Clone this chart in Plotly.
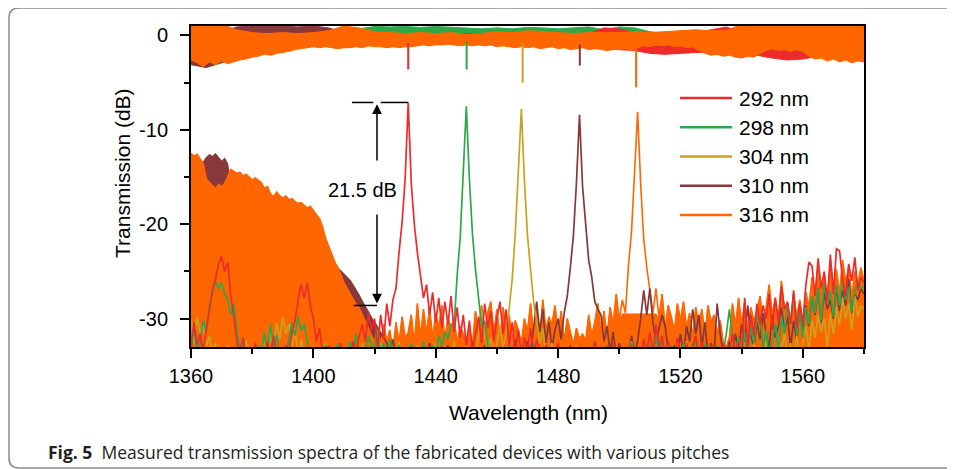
import plotly.graph_objects as go
import numpy as np

# ---------------- data ----------------
SERIES = ["292 nm", "298 nm", "304 nm", "310 nm", "316 nm"]
COLORS = ["#ee2b2b", "#2ca84a", "#c9a21f", "#86383a", "#ff6600"]

X_TICKS = [1360, 1400, 1440, 1480, 1520, 1560]
X_TICKTEXT = ["1360", "1400", "1440", "1480", "1520", "1560"]
X_MINOR = [1380, 1420, 1460, 1500, 1540, 1580]
Y_TICKS = [0, -10, -20, -30]
Y_TICKTEXT = ["0", "-10", "-20", "-30"]
Y_MINOR = [-5, -15, -25]

wl = list(range(1360, 1581))          # 1 nm grid (drop-port spectra)
wl_2nm = list(range(1360, 1581, 2))   # 2 nm grid (orange through-port edge)
wl_5nm = list(range(1360, 1581, 5))   # 5 nm grid (through-port envelopes)

# drop-port spectra, dB, 1360..1580 nm step 1
drop_292 = [
    -33.0, -30.4, -32.8, -31.6, -33.6, -31.0, -29.2, -27.0, -25.8, -24.2,
    -23.4, -25.0, -24.0, -27.6, -29.8, -32.4, -33.8, -32.0, -34.0, -33.4,
    -34.0, -32.6, -34.0, -33.0, -34.0, -32.4, -33.8, -31.8, -34.0, -33.2,
    -34.0, -32.8, -33.6, -31.4, -30.2, -28.0, -26.4, -27.8, -26.2, -28.6,
    -30.0, -32.4, -31.0, -33.6, -34.0, -32.8, -34.0, -33.2, -34.0, -32.6,
    -34.0, -33.0, -34.0, -32.4, -33.6, -31.8, -30.6, -32.4, -29.4, -31.2,
    -30.0, -33.0, -29.6, -32.2, -28.4, -30.8, -28.0, -26.8, -23.0, -19.8,
    -15.2, -7.1, -15.6, -20.0, -23.0, -25.6, -27.8, -26.4, -29.6, -27.2,
    -30.4, -27.8, -31.0, -28.2, -30.6, -27.6, -31.4, -28.8, -32.0, -29.6,
    -32.8, -30.2, -33.4, -31.6, -29.8, -32.6, -28.4, -31.0, -29.2, -32.4,
    -30.0, -28.2, -31.6, -29.0, -32.8, -30.4, -33.6, -31.2, -34.0, -32.0,
    -33.4, -31.0, -34.0, -32.2, -33.6, -34.0, -32.8, -34.0, -33.2, -34.0,
    -32.6, -34.0, -33.4, -34.0, -32.8, -34.0, -33.6, -34.0, -33.0, -34.0,
    -33.6, -34.0, -32.4, -34.0, -33.8, -34.0, -33.0, -34.0, -32.6, -34.0,
    -33.2, -34.0, -33.8, -34.0, -32.8, -34.0, -33.4, -34.0, -32.2, -33.6,
    -31.4, -33.8, -30.6, -33.0, -31.8, -34.0, -32.4, -33.6, -34.0, -32.0,
    -33.4, -34.0, -32.6, -34.0, -33.0, -31.8, -34.0, -32.4, -33.6, -34.0,
    -32.8, -34.0, -33.2, -34.0, -32.6, -34.0, -33.6, -31.6, -33.8, -32.4,
    -34.0, -27.8, -33.0, -29.6, -31.8, -28.4, -30.6, -28.6, -30.0, -27.4,
    -31.2, -27.8, -30.4, -26.6, -29.0, -28.2, -30.6, -27.0, -31.0, -28.4,
    -30.6, -26.4, -24.0, -24.4, -27.6, -23.6, -26.8, -25.0, -28.2, -23.2,
    -27.4, -22.6, -22.8, -25.8, -27.6, -24.2, -26.0, -23.5, -27.0, -25.6,
    -26.2]

drop_298 = [
    -33.5, -31.0, -33.8, -32.4, -30.2, -31.4, -28.6, -27.2, -26.0, -26.8,
    -26.2, -27.4, -28.0, -29.6, -28.4, -31.2, -33.5, -32.0, -33.8, -34.0,
    -33.6, -34.0, -32.8, -33.8, -31.4, -33.6, -30.6, -33.2, -31.8, -34.0,
    -33.4, -34.0, -32.0, -30.4, -31.8, -29.8, -31.2, -30.6, -32.4, -33.8,
    -34.0, -33.2, -34.0, -33.6, -32.8, -34.0, -33.0, -34.0, -32.6, -34.0,
    -33.0, -34.0, -32.4, -33.8, -31.6, -34.0, -33.2, -34.0, -31.8, -33.0,
    -33.0, -31.2, -33.8, -32.6, -34.0, -32.2, -33.6, -34.0, -32.8, -34.0,
    -33.4, -34.0, -32.6, -34.0, -33.2, -34.0, -32.4, -33.8, -34.0, -32.8,
    -33.6, -31.8, -33.0, -31.4, -32.2, -30.6, -30.8, -25.4, -21.4, -15.0,
    -7.5, -15.2, -21.0, -24.8, -27.8, -30.8, -30.2, -32.8, -33.6, -34.0,
    -33.8, -34.0, -33.2, -34.0, -32.8, -34.0, -33.6, -34.0, -33.0, -34.0,
    -33.4, -34.0, -32.6, -34.0, -33.8, -34.0, -33.2, -34.0, -33.6, -34.0,
    -33.0, -34.0, -33.6, -34.0, -32.8, -34.0, -33.4, -34.0, -33.8, -34.0,
    -33.2, -34.0, -32.4, -34.0, -33.8, -34.0, -32.8, -34.0, -33.6, -34.0,
    -33.4, -34.0, -33.0, -34.0, -32.6, -34.0, -33.8, -34.0, -33.2, -34.0,
    -32.8, -34.0, -31.8, -34.0, -32.4, -33.6, -34.0, -32.8, -34.0, -33.4,
    -34.0, -32.6, -34.0, -33.0, -34.0, -32.2, -33.8, -34.0, -32.6, -34.0,
    -33.4, -34.0, -32.8, -34.0, -33.6, -31.6, -29.0, -31.8, -33.4, -32.0,
    -34.0, -31.4, -33.6, -30.8, -32.6, -30.0, -29.6, -33.0, -31.2, -34.0,
    -32.2, -30.6, -33.4, -29.8, -31.6, -28.6, -30.4, -27.4, -31.8, -29.2,
    -32.0, -28.8, -30.6, -27.6, -29.4, -26.8, -30.2, -26.2, -28.4, -27.0,
    -29.8, -26.4, -28.6, -25.8, -28.0, -26.6, -29.2, -27.2, -26.0, -26.8,
    -26.6]

drop_304 = [
    -30.2, -32.6, -29.8, -31.6, -30.4, -33.0, -31.8, -34.0, -32.6, -34.0,
    -33.4, -34.0, -32.8, -34.0, -33.6, -34.0, -33.0, -34.0, -32.4, -34.0,
    -33.8, -34.0, -33.2, -34.0, -32.6, -34.0, -31.6, -33.0, -30.4, -32.2,
    -29.8, -31.6, -30.6, -33.4, -31.0, -34.0, -32.2, -34.0, -33.6, -34.0,
    -33.0, -34.0, -33.8, -34.0, -32.6, -34.0, -33.4, -34.0, -33.0, -34.0,
    -33.6, -34.0, -32.8, -34.0, -33.4, -34.0, -32.6, -34.0, -33.8, -34.0,
    -33.2, -34.0, -32.6, -34.0, -33.8, -34.0, -33.0, -34.0, -32.4, -34.0,
    -33.6, -34.0, -33.2, -34.0, -32.8, -34.0, -33.4, -34.0, -33.0, -34.0,
    -32.6, -34.0, -33.8, -34.0, -33.2, -34.0, -32.4, -34.0, -33.6, -34.0,
    -33.0, -34.0, -32.8, -34.0, -31.8, -29.0, -31.6, -33.4, -32.0, -34.0,
    -32.6, -30.8, -33.2, -31.6, -29.0, -25.8, -21.0, -15.0, -7.8, -15.4,
    -21.2, -24.8, -28.2, -30.4, -32.6, -31.0, -33.8, -34.0, -32.6, -34.0,
    -33.4, -34.0, -33.0, -34.0, -33.6, -34.0, -32.8, -34.0, -33.4, -34.0,
    -33.0, -34.0, -32.6, -34.0, -33.8, -34.0, -33.2, -34.0, -32.8, -34.0,
    -33.6, -34.0, -33.0, -34.0, -32.4, -34.0, -33.4, -34.0, -33.0, -34.0,
    -32.8, -34.0, -33.6, -34.0, -33.0, -34.0, -32.6, -34.0, -33.4, -34.0,
    -33.0, -34.0, -32.4, -34.0, -33.8, -34.0, -33.2, -34.0, -32.6, -34.0,
    -33.4, -34.0, -33.0, -34.0, -32.8, -34.0, -33.6, -34.0, -33.2, -34.0,
    -32.8, -34.0, -33.4, -34.0, -32.6, -34.0, -33.0, -34.0, -32.4, -34.0,
    -33.2, -34.0, -32.0, -33.6, -31.4, -34.0, -32.6, -33.8, -31.8, -34.0,
    -32.6, -30.8, -33.4, -30.2, -32.0, -29.6, -31.4, -30.0, -33.0, -29.4,
    -31.6, -28.8, -30.6, -27.8, -30.0, -28.4, -31.2, -27.6, -29.8, -28.6,
    -29.0]

drop_310 = [
    -14.5, -14.8, -14.2, -14.0, -13.4, -12.9, -12.6, -12.8, -12.5, -12.9,
    -13.3, -13.0, -13.6, -15.8, -16.0, -16.4, -16.2, -16.8, -16.6, -17.0,
    -17.2, -17.6, -17.4, -18.0, -18.2, -18.6, -18.4, -19.0, -19.2, -19.6,
    -19.8, -20.0, -20.4, -20.2, -20.8, -21.0, -21.2, -21.6, -21.4, -22.0,
    -22.4, -22.8, -23.0, -23.4, -23.6, -24.0, -24.2, -24.4, -24.6, -24.9,
    -25.2, -25.5, -25.9, -26.4, -26.9, -27.5, -28.1, -28.7, -29.2, -29.8,
    -30.4, -31.0, -31.5, -32.0, -32.6, -33.4, -32.2, -34.0, -33.0, -34.0,
    -33.6, -34.0, -32.8, -34.0, -33.4, -34.0, -33.0, -34.0, -32.6, -34.0,
    -33.2, -34.0, -33.8, -34.0, -32.8, -34.0, -33.4, -34.0, -33.0, -34.0,
    -33.6, -34.0, -32.4, -34.0, -33.2, -34.0, -32.8, -34.0, -33.6, -34.0,
    -33.0, -34.0, -32.6, -34.0, -33.4, -34.0, -32.2, -34.0, -33.0, -34.0,
    -32.4, -33.6, -30.8, -28.2, -31.4, -29.0, -32.6, -30.4, -33.0, -31.2,
    -30.0, -32.2, -29.4, -27.6, -24.6, -21.2, -15.6, -8.4, -16.0, -20.4,
    -23.8, -25.6, -28.2, -29.0, -29.6, -32.4, -30.8, -33.6, -31.4, -34.0,
    -32.6, -34.0, -33.0, -34.0, -31.8, -33.6, -32.4, -30.0, -27.0, -29.6,
    -26.8, -30.4, -32.6, -31.0, -29.6, -30.8, -33.4, -34.0, -32.8, -34.0,
    -31.6, -33.8, -30.8, -32.4, -29.0, -31.6, -29.6, -33.0, -30.4, -34.0,
    -32.6, -33.8, -28.4, -31.6, -33.8, -34.0, -32.4, -34.0, -31.6, -33.4,
    -30.6, -32.4, -28.6, -31.8, -33.0, -30.4, -32.2, -29.4, -31.6, -33.0,
    -29.6, -32.0, -30.8, -28.8, -31.4, -29.8, -33.0, -30.2, -32.4, -29.0,
    -31.2, -28.6, -30.8, -27.6, -29.6, -26.8, -30.4, -27.2, -29.0, -28.0,
    -30.0, -26.6, -29.2, -27.0, -28.6, -25.8, -29.4, -27.4, -28.0, -26.8,
    -27.4]

drop_316 = [
    -12.5, -12.8, -12.6, -13.1, -13.6, -15.2, -15.6, -15.9, -16.2, -15.8,
    -16.0, -15.7, -15.0, -14.2, -14.4, -14.6, -14.5, -14.9, -14.7, -15.0,
    -15.3, -15.1, -15.4, -15.6, -16.2, -16.0, -16.8, -17.1, -16.6, -17.0,
    -17.2, -17.0, -17.4, -17.3, -17.6, -17.8, -17.7, -18.0, -18.3, -18.1,
    -18.6, -19.0, -19.4, -20.3, -21.5, -22.4, -23.3, -24.0, -24.6, -25.5,
    -26.2, -26.8, -27.4, -28.0, -28.5, -28.9, -29.6, -30.2, -31.0, -31.8,
    -32.5, -31.0, -32.8, -30.6, -32.4, -31.2, -33.5, -30.4, -32.6, -29.8,
    -32.0, -31.5, -29.6, -32.8, -28.4, -32.0, -29.0, -31.6, -28.8, -32.2,
    -29.4, -31.0, -28.6, -32.4, -29.8, -31.2, -30.0, -32.6, -30.8, -31.6,
    -32.4, -31.0, -32.8, -29.2, -31.4, -28.6, -31.8, -29.4, -28.2, -31.6,
    -29.0, -32.2, -28.8, -31.0, -29.6, -32.4, -30.2, -31.2, -32.6, -30.0,
    -31.4, -28.4, -31.8, -29.0, -32.0, -28.0, -31.2, -29.8, -30.6, -28.6,
    -31.8, -29.2, -32.4, -30.0, -31.4, -32.8, -31.0, -32.2, -31.6, -32.4,
    -29.6, -31.8, -30.4, -28.4, -31.6, -29.2, -32.0, -28.8, -30.6, -27.4,
    -30.2, -28.0, -29.4, -24.4, -20.8, -14.6, -8.1, -15.8, -21.6, -24.6,
    -27.0, -29.4, -26.8, -30.0, -27.4, -31.0, -28.6, -29.8, -31.4, -28.4,
    -30.2, -28.2, -31.0, -29.4, -32.0, -28.8, -30.6, -29.0, -31.8, -28.6,
    -30.4, -29.6, -31.6, -30.2, -32.6, -33.0, -32.0, -28.4, -30.8, -27.8,
    -30.6, -28.2, -31.4, -28.8, -30.2, -29.4, -27.6, -30.4, -28.8, -26.4,
    -29.6, -27.8, -30.2, -26.0, -29.0, -28.4, -30.6, -27.4, -29.8, -28.0,
    -30.4, -27.2, -28.8, -25.6, -27.8, -24.4, -27.0, -25.2, -28.0, -24.0,
    -26.6, -24.8, -27.4, -23.8, -26.2, -24.6, -27.8, -25.0, -26.4, -24.6,
    -26.0]

# through-port envelopes (upper / lower edge of the noisy band), dB
thru_up_292 = [
    0.2, 0.2, 0.2, 0.2, 0.2, 0.2, 0.2, 0.2, 0.2, 0.2,
    0.2, 0.2, 0.2, 0.2, 0.2, 0.2, 0.2, 0.2, 0.2, 0.2,
    0.2, 0.2, 0.2, 0.2, 0.2, 0.2, 0.2, 0.8, 0.7, 0.3,
    0.2, 0.2, 0.2, 0.3, 0.6, 0.9, 0.3, 0.2, 0.2, 0.2,
    0.2, 0.2, 0.2, 0.2, 0.2]
thru_lo_292 = [
    -1.5, -1.4, -1.4, -1.3, -1.2, -1.1, -1.0, -0.9, -0.9, -0.9,
    -0.9, -0.9, -0.9, -0.9, -0.9, -0.9, -0.8, -0.8, -0.8, -0.9,
    -1.0, -1.0, -1.1, -1.1, -1.2, -1.2, -1.3, -1.4, -1.5, -1.6,
    -1.9, -2.0, -1.9, -1.8, -1.8, -1.8, -1.9, -2.1, -2.4, -2.6,
    -2.5, -2.2, -2.0, -2.1, -2.2]
thru_up_298 = [
    0.2, 0.2, 0.2, 0.2, 0.2, 0.2, 0.2, 0.2, 0.2, 0.2,
    0.3, 0.7, 0.95, 0.9, 0.95, 0.85, 0.95, 0.9, 0.8, 0.7,
    0.8, 0.7, 0.85, 0.8, 0.7, 0.8, 0.9, 0.6, 0.9, 0.8,
    0.4, 0.2, 0.2, 0.2, 0.2, 0.2, 0.2, 0.2, 0.2, 0.2,
    0.2, 0.2, 0.2, 0.2, 0.2]
thru_lo_298 = [
    -0.7, -0.7, -0.7, -0.7, -0.7, -0.7, -0.7, -0.7, -0.7, -0.7,
    -0.7, -0.7, -0.7, -0.7, -0.7, -0.7, -0.7, -0.7, -0.7, -0.7,
    -0.7, -0.7, -0.7, -0.7, -0.7, -0.7, -0.7, -0.7, -0.7, -0.7,
    -0.7, -0.7, -0.7, -0.7, -0.7, -0.7, -0.7, -0.7, -0.7, -0.7,
    -0.7, -0.7, -0.7, -0.7, -0.7]
thru_up_304 = [
    0.1, 0.1, 0.1, 0.1, 0.1, 0.1, 0.1, 0.1, 0.1, 0.1,
    0.1, 0.1, 0.1, 0.1, 0.1, 0.1, 0.1, 0.1, 0.1, 0.1,
    0.1, 0.1, 0.1, 0.1, 0.1, 0.1, 0.1, 0.1, 0.1, 0.1,
    0.1, 0.1, 0.1, 0.1, 0.1, 0.1, 0.1, 0.1, 0.1, 0.1,
    0.1, 0.1, 0.1, 0.1, 0.1]
thru_lo_304 = [
    -0.8, -0.8, -0.8, -0.8, -0.8, -0.8, -0.8, -0.8, -0.8, -0.8,
    -0.8, -0.8, -0.8, -0.8, -0.8, -0.8, -0.8, -0.8, -0.8, -0.8,
    -0.8, -0.8, -0.8, -0.8, -0.8, -0.8, -0.8, -0.8, -0.8, -0.8,
    -0.8, -0.8, -0.8, -0.8, -0.8, -0.8, -0.8, -0.8, -0.8, -0.8,
    -0.8, -0.8, -0.8, -0.8, -0.8]
thru_up_310 = [
    0.3, 0.3, 0.4, 0.9, 1.0, 0.95, 1.0, 0.9, 1.0, 0.8,
    0.3, 0.2, 0.2, 0.2, 0.2, 0.2, 0.2, 0.2, 0.2, 0.2,
    0.2, 0.2, 0.2, 0.2, 0.2, 0.2, 0.2, 0.2, 0.2, 0.2,
    0.2, 0.2, 0.2, 0.2, 0.2, 0.2, 0.2, 0.2, 0.2, 0.2,
    0.2, 0.2, 0.2, 0.2, 0.2]
thru_lo_310 = [
    -3.1, -3.4, -2.9, -2.4, -2.0, -0.9, -0.9, -0.9, -0.9, -0.9,
    -0.9, -0.9, -0.9, -0.9, -0.9, -0.9, -0.9, -0.9, -0.9, -0.9,
    -0.9, -0.9, -0.9, -0.9, -0.9, -0.9, -0.9, -0.9, -0.9, -0.9,
    -0.9, -0.9, -0.9, -0.9, -0.9, -0.9, -0.9, -0.9, -0.9, -0.9,
    -0.9, -0.9, -0.9, -0.9, -0.9]
thru_up_316 = [
    1.2, 1.2, 1.2, 0.6, 0.3, 0.2, 0.3, 0.2, 0.3, 0.5,
    1.0, 0.8, 0.4, 0.3, 0.2, 0.3, 0.2, 0.3, 0.1, 0.2,
    0.4, 0.3, 0.5, 0.4, 0.3, 0.2, 0.3, 0.3, 0.3, 0.4,
    0.3, 0.4, 0.5, 0.6, 0.5, 0.5, 1.2, 1.2, 1.2, 1.2,
    1.2, 1.2, 1.2, 1.2, 1.2]
thru_lo_316 = [  # 2 nm grid
    -2.6, -2.9, -3.3, -2.8, -3.1, -2.7, -3.0, -2.8, -2.6, -2.5,
    -2.3, -2.2, -2.0, -2.1, -1.9, -1.8, -1.7, -1.5, -1.4, -1.3,
    -1.2, -1.3, -1.2, -1.3, -1.4, -1.3, -1.3, -1.2, -1.3, -1.1,
    -1.2, -1.2, -1.3, -1.2, -1.3, -1.2, -1.2, -1.1, -1.0, -1.1,
    -1.0, -1.0, -0.9, -1.0, -1.1, -1.0, -1.1, -1.0, -1.1, -1.0,
    -1.2, -1.1, -1.2, -1.3, -1.2, -1.3, -1.2, -1.4, -1.3, -1.2,
    -1.4, -1.3, -1.5, -1.4, -1.3, -1.5, -1.4, -1.5, -1.6, -1.5,
    -1.5, -1.4, -1.6, -1.3, -1.1, -1.2, -1.0, -1.1, -1.0, -1.2,
    -1.1, -1.3, -1.2, -1.6, -1.9, -2.1, -2.0, -2.2, -2.1, -2.3,
    -2.4, -2.2, -2.3, -1.9, -1.6, -1.4, -1.6, -1.5, -1.7, -1.5,
    -1.7, -2.2, -2.5, -2.4, -2.7, -2.5, -2.8, -2.6, -2.9, -2.7,
    -2.8]

# through-port resonance dips
dip_wl = [1431.0, 1450.1, 1468.4, 1487.1, 1505.5]
dip_db = [-3.6, -3.6, -5.0, -3.2, -5.5]

ANNOT_DB = 21.5
ANNOT_TEXT = "21.5 dB"
ANNOT_WL = 1420.8
CAPTION_BOLD = "Fig. 5"
CAPTION = "Measured transmission spectra of the fabricated devices with various pitches"
X_TITLE = "Wavelength (nm)"
Y_TITLE = "Transmission (dB)"

# ---------------- layout geometry (screen pixels) ----------------
WIN_W, WIN_H = 955, 470
BODY = 8                      # default page margin of the html body
W, H = WIN_W - BODY, WIN_H - BODY
PLOT_L, PLOT_R, PLOT_T, PLOT_B = 191, 864, 26, 347
PLOT_W, PLOT_H = PLOT_R - PLOT_L, PLOT_B - PLOT_T
X_RANGE = [1360, 1580]
Y_RANGE = [-33, 1]
FLOOR = Y_RANGE[0] - 10
PEAK_SOLID_CAP = -29.5
FONT = "Liberation Sans, Arial, Helvetica, sans-serif"


def px_x(x):
    return (x - PLOT_L) / PLOT_W


def px_y(y):
    return (PLOT_B - y) / PLOT_H


fig = go.Figure()


def band(xl, lo, xu, up, color):
    fig.add_trace(go.Scatter(
        x=list(xl) + list(xu)[::-1], y=list(lo) + list(up)[::-1],
        mode="lines", fill="toself", fillcolor=color,
        line=dict(color=color, width=1), showlegend=False, hoverinfo="skip"))


# through-port bands
band(wl_5nm, thru_lo_304, wl_5nm, thru_up_304, COLORS[2])
band(wl_5nm, thru_lo_298, wl_5nm, thru_up_298, COLORS[1])
band(wl_5nm, thru_lo_310, wl_5nm, thru_up_310, COLORS[3])
band(wl_5nm, thru_lo_292, wl_5nm, thru_up_292, COLORS[0])
band(wl_2nm, thru_lo_316, wl_5nm, thru_up_316, COLORS[4])

# dips
edge = np.interp(dip_wl, wl_2nm, thru_lo_316)
for i in range(5):
    fig.add_trace(go.Scatter(
        x=[dip_wl[i], dip_wl[i]], y=[edge[i] + 0.4, dip_db[i]], mode="lines",
        line=dict(color=COLORS[i], width=2), showlegend=False, hoverinfo="skip"))


def filled(xs, ys, color, width):
    fig.add_trace(go.Scatter(
        x=list(xs) + [xs[-1], xs[0]], y=list(ys) + [FLOOR, FLOOR],
        mode="lines", fill="toself", fillcolor=color,
        line=dict(color=color, width=width), showlegend=False, hoverinfo="skip"))


def line(xs, ys, color, width):
    fig.add_trace(go.Scatter(
        x=xs, y=ys, mode="lines", line=dict(color=color, width=width),
        showlegend=False, hoverinfo="skip"))


n_left = wl.index(1425) + 1
n_right = wl.index(1420)
peak316 = wl[drop_316.index(max(drop_316[n_right:]))]
# solid (dense-noise) parts
filled(wl[:n_left], drop_310[:n_left], COLORS[3], 1)
orange_solid = [min(v, PEAK_SOLID_CAP) if abs(w - peak316) <= 6 else v
                for w, v in zip(wl, drop_316)]
filled(wl, orange_solid, COLORS[4], 1)
line(wl, drop_316, COLORS[4], 1.6)
line(wl[n_right:], drop_310[n_right:], COLORS[3], 1.7)
line(wl, drop_304, COLORS[2], 1.7)
line(wl, drop_298, COLORS[1], 1.7)
line(wl, drop_292, COLORS[0], 1.7)

# ---------------- annotation (21.5 dB) ----------------
peak_top = max(drop_292)
peak_wl = wl[drop_292.index(peak_top)]
bottom = peak_top - ANNOT_DB
shapes = []
for x0, x1, y in [(ANNOT_WL - 8.2, ANNOT_WL - 1.2, peak_top),
                  (ANNOT_WL + 1.2, peak_wl, peak_top),
                  (ANNOT_WL - 7.6, ANNOT_WL, bottom)]:
    shapes.append(dict(type="line", xref="x", yref="y", x0=x0, x1=x1, y0=y, y1=y,
                       line=dict(color="black", width=1.5)))
annotations = [
    dict(x=ANNOT_WL, y=peak_top - 0.2, ax=ANNOT_WL, ay=peak_top - 6.3,
         xref="x", yref="y", axref="x", ayref="y", text="", showarrow=True,
         arrowhead=2, arrowsize=1.3, arrowwidth=1.5, arrowcolor="black"),
    dict(x=ANNOT_WL, y=bottom + 0.2, ax=ANNOT_WL, ay=peak_top - 11.7,
         xref="x", yref="y", axref="x", ayref="y", text="", showarrow=True,
         arrowhead=2, arrowsize=1.3, arrowwidth=1.5, arrowcolor="black"),
    dict(x=ANNOT_WL - 4.6, y=(peak_top + bottom) / 2 + 1.5, xref="x", yref="y",
         xanchor="center", yanchor="middle",
         text=ANNOT_TEXT, showarrow=False, font=dict(family=FONT, size=20, color="black")),
    dict(x=px_x(122), y=px_y(173), xref="paper", yref="paper", text=Y_TITLE,
         xanchor="center", yanchor="middle",
         textangle=-90, showarrow=False, font=dict(family=FONT, size=21, color="black")),
    dict(x=px_x(528), y=px_y(412), xref="paper", yref="paper", text=X_TITLE,
         xanchor="center", yanchor="middle",
         showarrow=False, font=dict(family=FONT, size=21, color="black")),
    dict(x=px_x(46), y=px_y(452), xref="paper", yref="paper", xanchor="left",
         yanchor="middle",
         text="<b>" + CAPTION_BOLD + "</b>\u00a0\u00a0" + CAPTION, showarrow=False,
         font=dict(family="Open Sans, sans-serif", size=17.5, color="#231f20")),
]

# custom legend
for i, name in enumerate(SERIES):
    yy = px_y(98 + 29.25 * i)
    shapes.append(dict(type="line", xref="paper", yref="paper",
                       x0=px_x(680), x1=px_x(732), y0=yy, y1=yy,
                       line=dict(color=COLORS[i], width=2.5)))
    annotations.append(dict(x=px_x(737), y=yy, xref="paper", yref="paper",
                            xanchor="left", yanchor="middle", text=name, showarrow=False,
                            font=dict(family=FONT, size=21, color="black")))

# outer frame of the figure panel (top edge, left edge, bottom edge, rounded corners)
FRAME_L, FRAME_T, FRAME_B, FRAME_RAD = 9, 8, 468, 10
fl, ft, fb, fr = px_x(FRAME_L), px_y(FRAME_T), px_y(FRAME_B), px_x(WIN_W + 5)
rx, ry = FRAME_RAD / PLOT_W, FRAME_RAD / PLOT_H
frame_style = dict(color="#8a8a8a", width=1.5)
shapes += [
    dict(type="line", xref="paper", yref="paper", x0=fl + rx, x1=fr, y0=ft, y1=ft, line=frame_style),
    dict(type="line", xref="paper", yref="paper", x0=fl, x1=fl, y0=ft - ry, y1=fb + ry, line=frame_style),
    dict(type="line", xref="paper", yref="paper", x0=fl + rx, x1=fr, y0=fb, y1=fb, line=frame_style),
    dict(type="path", xref="paper", yref="paper", line=frame_style,
         path=f"M {fl},{ft - ry} Q {fl},{ft} {fl + rx},{ft}"),
    dict(type="path", xref="paper", yref="paper", line=frame_style,
         path=f"M {fl},{fb + ry} Q {fl},{fb} {fl + rx},{fb}"),
]

axis_common = dict(showgrid=False, zeroline=False, showline=True, linewidth=2,
                   linecolor="black", mirror=True, ticks="outside", ticklen=9,
                   tickwidth=2, tickcolor="black",
                   tickfont=dict(family=FONT, size=20, color="black"))

fig.update_layout(
    width=W, height=H, autosize=False,
    margin=dict(l=PLOT_L - BODY, r=WIN_W - PLOT_R, t=PLOT_T - BODY, b=WIN_H - PLOT_B, pad=0),
    paper_bgcolor="white", plot_bgcolor="white", showlegend=False,
    xaxis=dict(range=X_RANGE, tickmode="array", tickvals=X_TICKS, ticktext=X_TICKTEXT,
               ticklabelstandoff=1,
               minor=dict(tickvals=X_MINOR, ticks="outside", ticklen=5, tickwidth=2,
                          tickcolor="black", showgrid=False),
               **axis_common),
    yaxis=dict(range=Y_RANGE, tickmode="array", tickvals=Y_TICKS, ticktext=Y_TICKTEXT,
               ticklabelstandoff=8,
               minor=dict(tickvals=Y_MINOR, ticks="outside", ticklen=5, tickwidth=2,
                          tickcolor="black", showgrid=False),
               **axis_common),
    shapes=shapes, annotations=annotations,
)

# hide page scrollbars caused by the default body margin
fig.write_html(
    "out.html",
    post_script="document.documentElement.style.overflow='hidden';"
                "document.body.style.overflow='hidden';")
